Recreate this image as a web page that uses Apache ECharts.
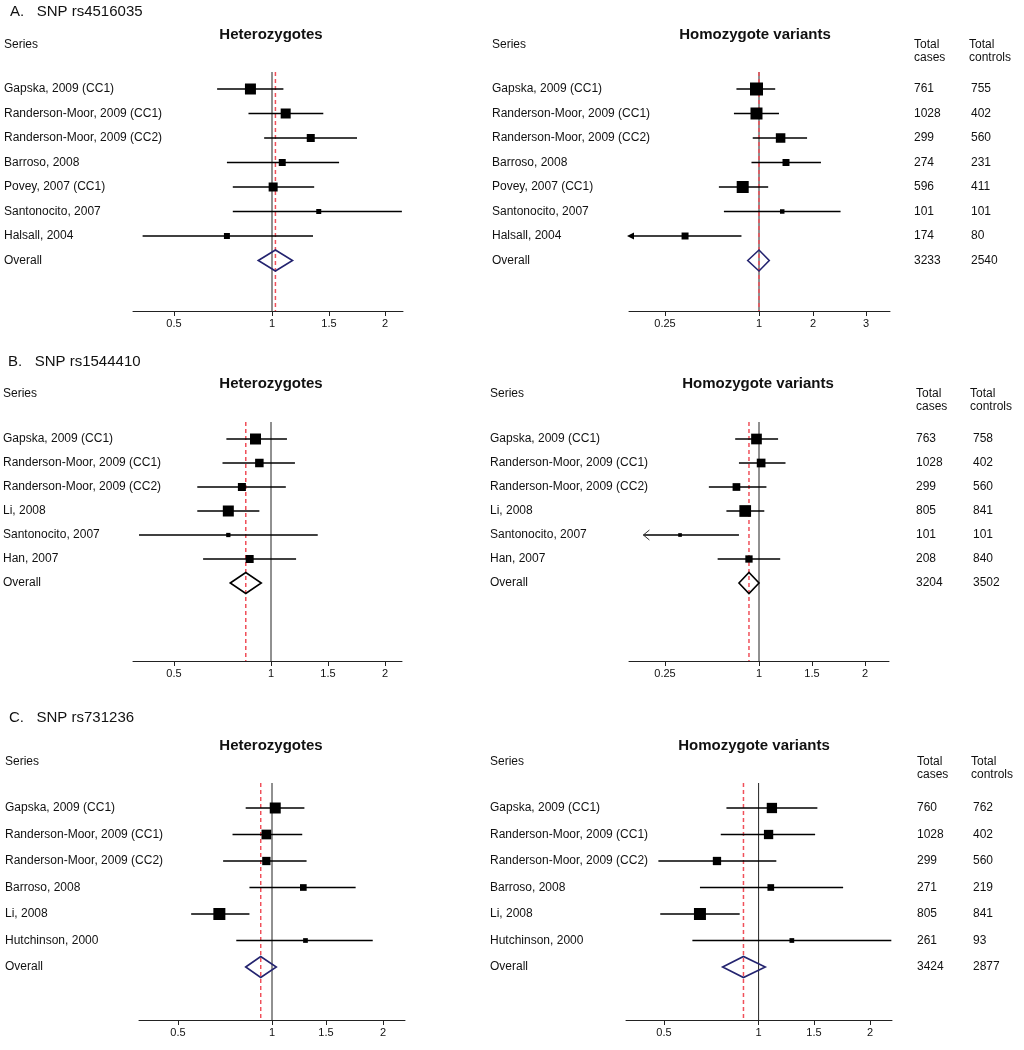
<!DOCTYPE html>
<html>
<head>
<meta charset="utf-8">
<title>Forest plots - VDR SNPs</title>
<script src="https://cdn.jsdelivr.net/npm/echarts@6/dist/echarts.min.js"></script>
<style>
html, body { margin: 0; padding: 0; background: #fff; }
#chart { width: 1024px; height: 1050px; }
</style>
</head>
<body>
<div id="chart"></div>
<script>
// ---- data ----
var sectionTitles = ['A.   SNP rs4516035', 'B.   SNP rs1544410', 'C.   SNP rs731236'];

var hetTicks = [0.5, 1, 1.5, 2];
var homATicks = [0.25, 1, 2, 3];
var homBTicks = [0.25, 1, 1.5, 2];
var homCTicks = [0.5, 1, 1.5, 2];

var namesA = ['Gapska, 2009 (CC1)', 'Randerson-Moor, 2009 (CC1)', 'Randerson-Moor, 2009 (CC2)', 'Barroso, 2008', 'Povey, 2007 (CC1)', 'Santonocito, 2007', 'Halsall, 2004'];
var casesA = [761, 1028, 299, 274, 596, 101, 174, 3233];
var controlsA = [755, 402, 560, 231, 411, 101, 80, 2540];

var hetAEst = [0.89, 1.12, 1.34, 1.09, 1.01, 1.41, 0.77];
var hetALo = [0.72, 0.88, 0.96, 0.77, 0.80, 0.80, 0.34];
var hetAHi = [1.10, 1.45, 1.75, 1.59, 1.37, 2.15, 1.36];
var hetAW = [17.9, 14.8, 9.5, 7.2, 12.0, 3.7, 5.3];
var hetAPool = [1.03, 0.93, 1.18];

var homAEst = [0.98, 0.98, 1.40, 1.50, 0.87, 1.43, 0.41];
var homALo = [0.82, 0.80, 0.95, 0.94, 0.68, 0.72, 0.05];
var homAHi = [1.30, 1.37, 1.89, 2.15, 1.17, 2.52, 0.86];
var homAW = [25.0, 21.3, 13.4, 7.2, 21.3, 3.0, 7.2];
var homAPool = [1.00, 0.91, 1.19];
var homACut = [0, 0, 0, 0, 0, 0, 1];

var namesB = ['Gapska, 2009 (CC1)', 'Randerson-Moor, 2009 (CC1)', 'Randerson-Moor, 2009 (CC2)', 'Li, 2008', 'Santonocito, 2007', 'Han, 2007'];
var casesB = [763, 1028, 299, 805, 101, 208, 3204];
var controlsB = [758, 402, 560, 841, 101, 840, 3502];

var hetBEst = [0.92, 0.94, 0.85, 0.78, 0.78, 0.89];
var hetBLo = [0.77, 0.75, 0.62, 0.62, 0.32, 0.65];
var hetBHi = [1.14, 1.21, 1.13, 0.94, 1.41, 1.22];
var hetBW = [17.9, 10.7, 9.5, 17.9, 2.7, 9.5];
var hetBPool = [0.87, 0.79, 0.95];

var homBEst = [0.98, 1.02, 0.82, 0.89, 0.37, 0.92];
var homBLo = [0.81, 0.84, 0.60, 0.74, 0.13, 0.67];
var homBHi = [1.18, 1.25, 1.07, 1.05, 0.84, 1.20];
var homBW = [16.9, 11.2, 8.8, 20.3, 2.0, 7.9];
var homBPool = [0.92, 0.84, 1.00];
var homBCut = [0, 0, 0, 0, 1, 0];

var namesC = ['Gapska, 2009 (CC1)', 'Randerson-Moor, 2009 (CC1)', 'Randerson-Moor, 2009 (CC2)', 'Barroso, 2008', 'Li, 2008', 'Hutchinson, 2000'];
var casesC = [760, 1028, 299, 271, 805, 261, 3424];
var controlsC = [762, 402, 560, 219, 841, 93, 2877];

var hetCEst = [1.03, 0.97, 0.97, 1.29, 0.72, 1.31];
var hetCLo = [0.86, 0.79, 0.74, 0.88, 0.57, 0.81];
var hetCHi = [1.30, 1.28, 1.32, 1.76, 0.88, 1.91];
var hetCW = [17.9, 13.9, 10.2, 6.6, 21.3, 3.3];
var hetCPool = [0.94, 0.86, 1.04];

var homCEst = [1.12, 1.09, 0.78, 1.11, 0.69, 1.30];
var homCLo = [0.83, 0.80, 0.47, 0.69, 0.48, 0.65];
var homCHi = [1.53, 1.51, 1.16, 1.76, 0.90, 2.19];
var homCW = [15.7, 12.8, 10.2, 6.6, 21.3, 3.3];
var homCPool = [0.92, 0.81, 1.06];

// ---- layout ----
var fontFamily = '"Liberation Sans", Arial, Helvetica, sans-serif';
var navy = '#23236f';
var refRed = '#f0505a';

var sections = [
    { titleX: 10, titleY: 12, headY: 35, seriesY: 45, top: 72, axisY: 311, firstRow: 89, gap: 24.5, homoTitleX: 755, casesX: 914, ctrlHeadX: 969, ctrlX: 971 },
    { titleX: 8, titleY: 362, headY: 384, seriesY: 394, top: 422, axisY: 661, firstRow: 439, gap: 24, homoTitleX: 758, casesX: 916, ctrlHeadX: 970, ctrlX: 973 },
    { titleX: 9, titleY: 718, headY: 746, seriesY: 762, top: 783, axisY: 1020, firstRow: 808, gap: 26.5, homoTitleX: 754, casesX: 917, ctrlHeadX: 971, ctrlX: 973 }
];

// the printed OR axes are not a standard scale, so each one is a piecewise scale through its ticks
var panels = [
    { sec: 0, homo: false, left: 133, width: 270, tickAt: [41, 139, 196, 252], ends: [0.291, 2.16], ticks: hetTicks,
      names: namesA, est: hetAEst, lo: hetALo, hi: hetAHi, w: hetAW, pool: hetAPool, cut: [], diamond: navy, nameX: 4 },
    { sec: 0, homo: true, left: 629, width: 261, tickAt: [36, 130, 184, 237], ends: [0.05, 3.45], ticks: homATicks,
      names: namesA, est: homAEst, lo: homALo, hi: homAHi, w: homAW, pool: homAPool, cut: homACut, arrow: 'filled', diamond: navy, nameX: 492,
      cases: casesA, controls: controlsA },
    { sec: 1, homo: false, left: 133, width: 269, tickAt: [41, 138, 195, 252], ends: [0.289, 2.15], ticks: hetTicks,
      names: namesB, est: hetBEst, lo: hetBLo, hi: hetBHi, w: hetBW, pool: hetBPool, cut: [], diamond: '#000', nameX: 3 },
    { sec: 1, homo: true, left: 629, width: 260, tickAt: [36, 130, 183, 236], ends: [0.05, 2.23], ticks: homBTicks,
      names: namesB, est: homBEst, lo: homBLo, hi: homBHi, w: homBW, pool: homBPool, cut: homBCut, arrow: 'open', diamond: '#000', nameX: 490,
      cases: casesB, controls: controlsB },
    { sec: 2, homo: false, left: 139, width: 266, tickAt: [39, 133, 187, 244], ends: [0.293, 2.19], ticks: hetTicks,
      names: namesC, est: hetCEst, lo: hetCLo, hi: hetCHi, w: hetCW, pool: hetCPool, cut: [], diamond: navy, nameX: 5 },
    { sec: 2, homo: true, left: 626, width: 266, tickAt: [38, 132.6, 188, 244], ends: [0.297, 2.196], ticks: homCTicks,
      names: namesC, est: homCEst, lo: homCLo, hi: homCHi, w: homCW, pool: homCPool, cut: [], diamond: navy, nameX: 490,
      cases: casesC, controls: controlsC }
];

function makeScale(ticks, tickAt, ends, width) {
    var ors = [ends[0]].concat(ticks).concat([ends[1]]);
    var ats = [0].concat(tickAt).concat([width]);
    return function (v) {
        for (var i = 1; i < ors.length; i++) {
            if (v <= ors[i] || i === ors.length - 1) {
                var t = (v - ors[i - 1]) / (ors[i] - ors[i - 1]);
                return ats[i - 1] + t * (ats[i] - ats[i - 1]);
            }
        }
    };
}

function studyRenderer(arrowKind) {
    return function (params, api) {
        var row = api.value(3);
        var pe = api.coord([api.value(0), row]);
        var pl = api.coord([api.value(1), row]);
        var ph = api.coord([api.value(2), row]);
        var s = 2.6 * Math.sqrt(api.value(4));
        var kids = [
            { type: 'line', shape: { x1: pl[0], y1: pl[1], x2: ph[0], y2: ph[1] }, style: { stroke: '#000', lineWidth: 1.5 } },
            { type: 'rect', shape: { x: pe[0] - s / 2, y: pe[1] - s / 2, width: s, height: s }, style: { fill: '#000' } }
        ];
        if (api.value(5) === 1) {
            if (arrowKind === 'open') {
                kids.push({ type: 'polyline', shape: { points: [[pl[0] + 6, pl[1] - 5], [pl[0], pl[1]], [pl[0] + 6, pl[1] + 5]] },
                    style: { stroke: '#333', lineWidth: 1, fill: null } });
            } else {
                kids.push({ type: 'polygon', shape: { points: [[pl[0] - 2, pl[1]], [pl[0] + 5, pl[1] - 3.5], [pl[0] + 5, pl[1] + 3.5]] },
                    style: { fill: '#000' } });
            }
        }
        return { type: 'group', children: kids };
    };
}

function diamondRenderer(color) {
    return function (params, api) {
        var row = api.value(3);
        var pc = api.coord([api.value(0), row]);
        var pl = api.coord([api.value(1), row]);
        var ph = api.coord([api.value(2), row]);
        var hh = 10.5;
        return {
            type: 'polygon',
            shape: { points: [[pl[0], pc[1]], [pc[0], pc[1] - hh], [ph[0], pc[1]], [pc[0], pc[1] + hh]] },
            style: { fill: null, stroke: color, lineWidth: 1.6 }
        };
    };
}

function textEl(x, y, text, font, align) {
    return {
        type: 'text', x: x, y: y, silent: true,
        style: {
            text: text, font: font, fill: '#111',
            textAlign: align || 'left', textVerticalAlign: 'middle',
            align: align || 'left', verticalAlign: 'middle', lineHeight: 13
        }
    };
}

var option = {
    animation: false,
    backgroundColor: '#fff',
    textStyle: { fontFamily: fontFamily },
    grid: [],
    xAxis: [],
    yAxis: [],
    series: [],
    graphic: []
};

var normal12 = '12px ' + fontFamily;

sections.forEach(function (sec, k) {
    option.graphic.push(textEl(sec.titleX, sec.titleY, sectionTitles[k], '15px ' + fontFamily));
    option.graphic.push(textEl(271, sec.headY, 'Heterozygotes', 'bold 15px ' + fontFamily, 'center'));
    option.graphic.push(textEl(sec.homoTitleX, sec.headY, 'Homozygote variants', 'bold 15px ' + fontFamily, 'center'));
    option.graphic.push(textEl(sec.casesX, sec.seriesY + 6.5, 'Total\ncases', normal12));
    option.graphic.push(textEl(sec.ctrlHeadX, sec.seriesY + 6.5, 'Total\ncontrols', normal12));
});

panels.forEach(function (p, i) {
    var sec = sections[p.sec];
    var toU = makeScale(p.ticks, p.tickAt, p.ends, p.width);
    var yMin = -(sec.firstRow - sec.top) / sec.gap;
    var yMax = (sec.axisY - sec.firstRow) / sec.gap;
    var rows = [];
    for (var r = 0; r <= p.names.length; r++) {
        rows.push(r);
    }
    var rowLabels = p.names.concat(['Overall']);
    var tickU = p.ticks.map(toU);

    option.graphic.push(textEl(p.nameX, sec.seriesY, 'Series', normal12));

    option.grid.push({ left: p.left, top: sec.top, width: p.width, height: sec.axisY - sec.top });

    option.xAxis.push({
        gridIndex: i,
        type: 'value',
        min: 0,
        max: p.width,
        axisLine: { onZero: false, lineStyle: { color: '#222', width: 1 } },
        axisTick: { customValues: tickU, length: 5, lineStyle: { color: '#222', width: 1 } },
        axisLabel: {
            customValues: tickU,
            margin: 7,
            fontSize: 11,
            color: '#111',
            formatter: function (v) {
                var best = 0;
                tickU.forEach(function (u, j) {
                    if (Math.abs(u - v) < Math.abs(tickU[best] - v)) best = j;
                });
                return String(p.ticks[best]);
            }
        },
        splitLine: { show: false }
    });

    var yIdx = option.yAxis.length;
    var baseY = {
        gridIndex: i,
        type: 'value',
        inverse: true,
        min: yMin,
        max: yMax,
        axisLine: { show: false, onZero: false },
        axisTick: { show: false },
        splitLine: { show: false }
    };
    option.yAxis.push(Object.assign({}, baseY, {
        position: 'left',
        axisLabel: {
            customValues: rows, align: 'left', margin: p.left - p.nameX, fontSize: 12, color: '#111',
            formatter: function (v) { return rowLabels[Math.round(v)]; }
        }
    }));
    if (p.homo) {
        option.yAxis.push(Object.assign({}, baseY, {
            position: 'right', offset: 0,
            axisLabel: {
                customValues: rows, align: 'left', margin: sec.casesX - (p.left + p.width), fontSize: 12, color: '#111',
                formatter: function (v) { return String(p.cases[Math.round(v)]); }
            }
        }));
        option.yAxis.push(Object.assign({}, baseY, {
            position: 'right', offset: 0,
            axisLabel: {
                customValues: rows, align: 'left', margin: sec.ctrlX - (p.left + p.width), fontSize: 12, color: '#111',
                formatter: function (v) { return String(p.controls[Math.round(v)]); }
            }
        }));
    }

    // line of no effect and pooled estimate
    option.series.push({
        type: 'line', xAxisIndex: i, yAxisIndex: yIdx, silent: true, symbol: 'none', z: 1,
        data: [[toU(1), yMin], [toU(1), yMax]],
        lineStyle: { color: '#222', width: 1 }
    });
    option.series.push({
        type: 'line', xAxisIndex: i, yAxisIndex: yIdx, silent: true, symbol: 'none', z: 2,
        data: [[toU(p.pool[0]), yMin], [toU(p.pool[0]), yMax]],
        lineStyle: { color: refRed, width: 1.5, type: [4, 3] }
    });

    option.series.push({
        type: 'custom', xAxisIndex: i, yAxisIndex: yIdx, silent: true, z: 3,
        encode: { x: [0, 1, 2], y: 3 },
        renderItem: studyRenderer(p.arrow),
        data: p.est.map(function (e, k) {
            return [toU(e), toU(p.lo[k]), toU(p.hi[k]), k, p.w[k], p.cut[k] || 0];
        })
    });

    option.series.push({
        type: 'custom', xAxisIndex: i, yAxisIndex: yIdx, silent: true, z: 4,
        encode: { x: [0, 1, 2], y: 3 },
        renderItem: diamondRenderer(p.diamond),
        data: [[toU(p.pool[0]), toU(p.pool[1]), toU(p.pool[2]), p.names.length]]
    });
});

var chartDom = document.getElementById('chart');
var myChart = echarts.init(chartDom, null, { renderer: 'canvas' });
myChart.setOption(option);

window.addEventListener('resize', function () {
    myChart.resize();
});
</script>
</body>
</html>
